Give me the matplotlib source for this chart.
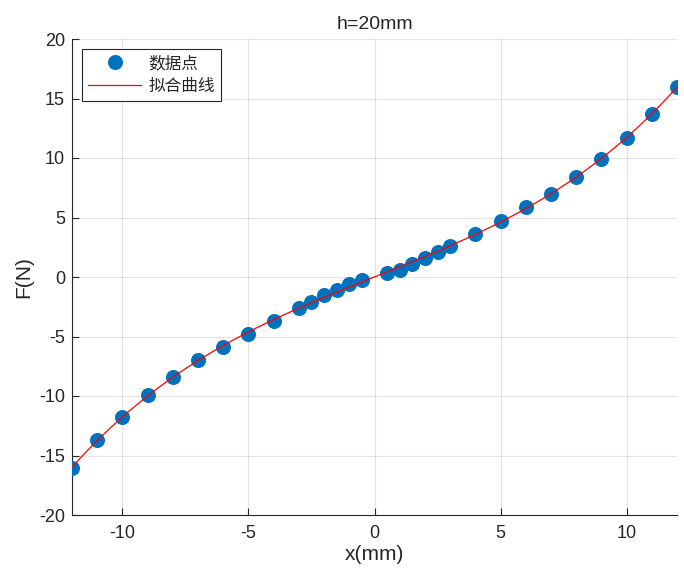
import numpy as np
import matplotlib
matplotlib.use("Agg")
import matplotlib.pyplot as plt

plt.rcParams['font.family'] = ['Liberation Sans', 'Noto Sans CJK SC', 'DejaVu Sans']
plt.rcParams['axes.unicode_minus'] = False

x_data = [-12, -11, -10, -9, -8, -7, -6, -5, -4, -3, -2.5, -2, -1.5, -1, -0.5,
          0.5, 1, 1.5, 2, 2.5, 3, 4, 5, 6, 7, 8, 9, 10, 11, 12]
f_data = [-16.05, -13.66, -11.76, -9.93, -8.44, -7.01, -5.87, -4.77, -3.70, -2.61,
          -2.08, -1.54, -1.09, -0.61, -0.28,
          0.34, 0.61, 1.09, 1.60, 2.10, 2.61, 3.64, 4.73, 5.88, 7.00, 8.40, 9.92,
          11.71, 13.67, 16.00]

title = "h=20mm"
xlabel = "x(mm)"
ylabel = "F(N)"
legend_labels = ["数据点", "拟合曲线"]
xticks = [-10, -5, 0, 5, 10]
yticks = [-20, -15, -10, -5, 0, 5, 10, 15, 20]

xd = np.array(x_data)
fd = np.array(f_data)
coef = np.polyfit(xd, fd, 5)
xf = np.linspace(-12, 12, 400)
ff = np.polyval(coef, xf)

fig = plt.figure(figsize=(6.84, 5.75), dpi=100)
ax = fig.add_axes([72/684, 1-515/575, (677-72)/684, (515-39)/575])

ax.plot(xd, fd, 'o', color='#0072BD', markersize=9.8, label=legend_labels[0], zorder=3)
ax.plot(xf, ff, '-', color='red', linewidth=0.9, label=legend_labels[1], zorder=4)

ax.set_xlim(-12, 12)
ax.set_ylim(-20, 20)
ax.set_xticks(xticks)
ax.set_yticks(yticks)
ax.grid(True, color='#262626', alpha=0.12, linewidth=0.8)
ax.set_axisbelow(True)

for s in ['top', 'right']:
    ax.spines[s].set_visible(False)
for s in ['left', 'bottom']:
    ax.spines[s].set_color('#262626')
    ax.spines[s].set_linewidth(0.8)
ax.tick_params(direction='in', length=5, width=0.8, color='#262626',
               labelsize=13, labelcolor='#262626')
ax.tick_params(axis='x', pad=7)
ax.tick_params(axis='y', pad=5)

ax.set_title(title, fontsize=14, color='#262626', pad=7)
ax.set_xlabel(xlabel, fontsize=15, color='#262626', labelpad=2)
ax.set_ylabel(ylabel, fontsize=15, color='#262626', labelpad=4)

leg = ax.legend(loc='upper left', frameon=True, fancybox=False,
                edgecolor='#262626', framealpha=1, borderaxespad=0.6,
                handlelength=3.2, handletextpad=0.45, borderpad=0.35,
                labelspacing=0.35, prop={'family': ['Noto Sans CJK SC', 'DejaVu Sans'], 'size': 12})
leg.get_frame().set_linewidth(0.8)
for t in leg.get_texts():
    t.set_color('#262626')

fig.savefig("out.png", dpi=100)
